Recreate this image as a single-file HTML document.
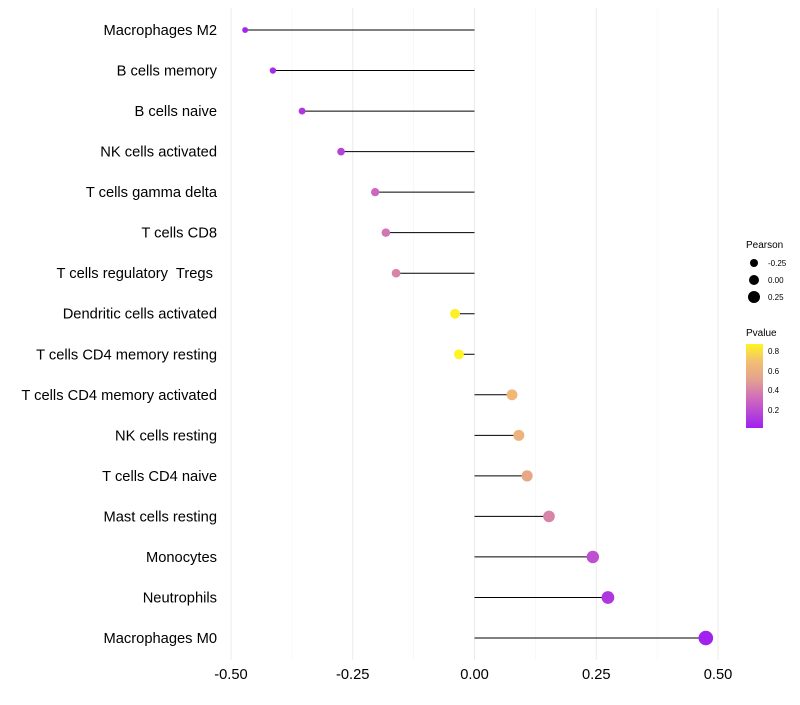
<!DOCTYPE html>
<html><head><meta charset="utf-8"><style>
body{margin:0;background:#fff;font-family:"Liberation Sans",sans-serif}
text{white-space:pre}
</style></head><body>
<svg id="chart" width="800" height="700" xmlns="http://www.w3.org/2000/svg" style="font-family:'Liberation Sans',sans-serif">
<g id="grid"></g>
<g id="marks"></g>
<g id="ylabels"></g>
<g id="xlabels"></g>
<g id="legend">
<text x="746" y="248" font-size="10">Pearson</text>
<circle cx="754" cy="263" r="4" fill="#000"/>
<text x="768" y="266" font-size="8">-0.25</text>
<circle cx="754" cy="280" r="5" fill="#000"/>
<text x="768" y="283" font-size="8">0.00</text>
<circle cx="754" cy="297" r="6" fill="#000"/>
<text x="768" y="300" font-size="8">0.25</text>
<text x="746" y="336" font-size="10">Pvalue</text>
<defs><linearGradient id="pg" x1="0" y1="1" x2="0" y2="0">
<stop offset="0" stop-color="#A020F0"/><stop offset="0.33" stop-color="#CC66C0"/><stop offset="0.57" stop-color="#E3A090"/><stop offset="0.8" stop-color="#F3C070"/><stop offset="1" stop-color="#FFF520"/>
</linearGradient></defs>
<rect x="746" y="344" width="17" height="84" fill="url(#pg)"/>
<text x="768" y="354" font-size="8">0.8</text>
<text x="768" y="374" font-size="8">0.6</text>
<text x="768" y="393" font-size="8">0.4</text>
<text x="768" y="413" font-size="8">0.2</text>
</g>
</svg>
<script>
const categories=["Macrophages M2","B cells memory","B cells naive","NK cells activated","T cells gamma delta","T cells CD8","T cells regulatory  Tregs ","Dendritic cells activated","T cells CD4 memory resting","T cells CD4 memory activated","NK cells resting","T cells CD4 naive","Mast cells resting","Monocytes","Neutrophils","Macrophages M0"];
const pearson=[-0.471,-0.414,-0.354,-0.274,-0.204,-0.182,-0.161,-0.040,-0.032,0.077,0.091,0.108,0.153,0.243,0.274,0.475];
const pvalues=[0.02,0.05,0.1,0.15,0.3,0.35,0.4,0.85,0.87,0.65,0.62,0.55,0.4,0.2,0.1,0.01];
const xTicks=[-0.5,-0.25,0,0.25,0.5];
const xTickLabels=["-0.50","-0.25","0.00","0.25","0.50"];
const NS="http://www.w3.org/2000/svg";
const x=v=>474.5+v*487;
const y=i=>30+i*(608/15);
const r=v=>5.1+v*4.6;
const stops=[[0,[160,32,240]],[0.3,[204,102,192]],[0.5,[227,160,144]],[0.7,[243,192,112]],[0.87,[255,245,32]]];
function col(p){p=Math.max(0,Math.min(0.87,p));for(let k=1;k<stops.length;k++){if(p<=stops[k][0]){const a=stops[k-1],b=stops[k],t=(p-a[0])/(b[0]-a[0]);return"rgb("+a[1].map((c,j)=>Math.round(c+(b[1][j]-c)*t)).join(",")+")";}}return"rgb(255,245,32)";}
function mk(t,a,p){const e=document.createElementNS(NS,t);for(const k in a)e.setAttribute(k,a[k]);p.appendChild(e);return e;}
const G=document.getElementById("grid"),M=document.getElementById("marks"),YL=document.getElementById("ylabels"),XL=document.getElementById("xlabels");
for(let v=-0.5;v<=0.5001;v+=0.125){
 const maj=Math.abs(v/0.25-Math.round(v/0.25))<1e-6;
 const l=mk("line",{x1:x(v),x2:x(v),y1:8,y2:660,stroke:maj?"#ebebeb":"#f4f4f4","stroke-width":maj?1:0.6},G);
 
 
}
xTicks.forEach((v,i)=>{
 const t=mk("text",{x:x(v),y:679,"font-size":14.7,"text-anchor":"middle",fill:"#000"},XL);t.textContent=xTickLabels[i];
 
 
});
categories.forEach((c,i)=>{
 const t=mk("text",{x:217,y:y(i)+5,"font-size":14.7,"text-anchor":"end",fill:"#000"},YL);t.textContent=c;
 
 
 const ln=mk("line",{x1:x(0),x2:x(pearson[i]),y1:y(i),y2:y(i),stroke:"#000","stroke-width":1},M);
 
 
 const d=mk("circle",{cx:x(pearson[i]),cy:y(i),r:r(pearson[i]),fill:col(pvalues[i])},M);
 
 
});
</script>
</body></html>
